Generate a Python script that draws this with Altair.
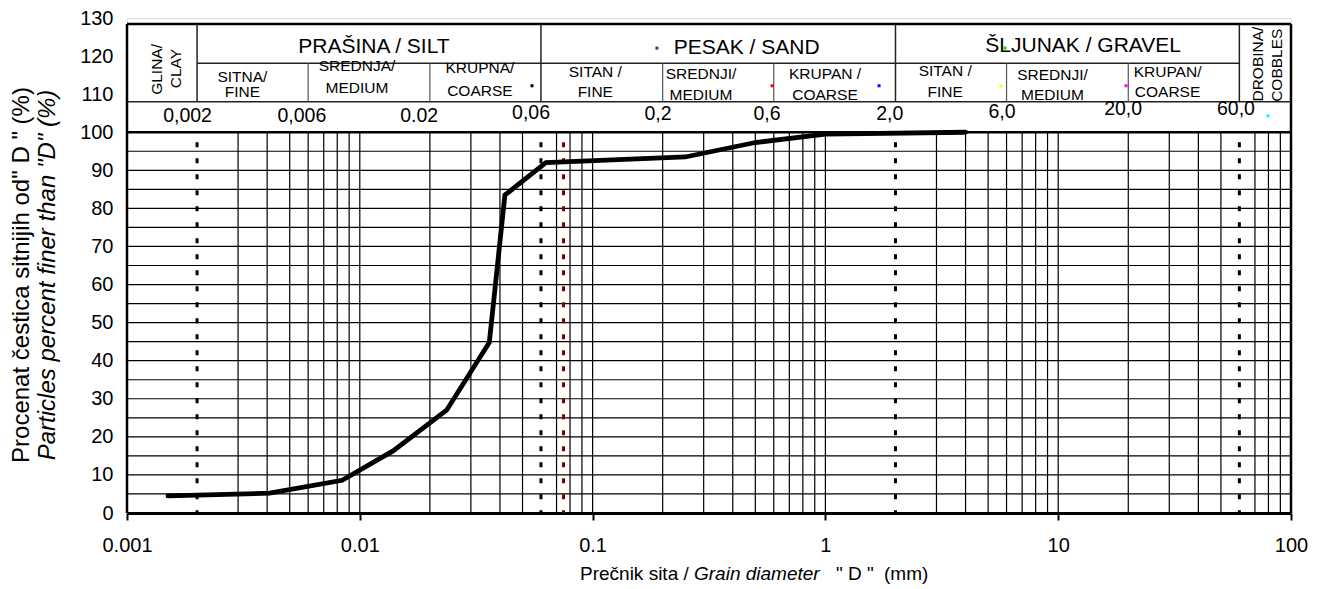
import altair as alt
import pandas as pd

FONT = "Liberation Sans"

# ---- grain size distribution curve ----
grain_mm = [0.0015, 0.0041, 0.0084, 0.0139, 0.0236, 0.036, 0.042, 0.063, 0.25, 0.5, 1.0, 4.0]
passing_pct = [4.5, 5.2, 8.6, 16.3, 27.0, 44.8, 83.5, 92.0, 93.5, 97.3, 99.5, 100.0]

x_ticks = [0.001, 0.01, 0.1, 1, 10, 100]
y_ticks = list(range(0, 131, 10))

# ---- classification boundaries ----
main_bounds = [0.002, 0.06, 2.0, 60.0]
sub_bounds = [0.006, 0.02, 0.2, 0.6, 6.0, 20.0]
red_bound = [0.075]

main_labels = ["PRAŠINA / SILT", "PESAK / SAND", "ŠLJUNAK / GRAVEL"]
main_label_x = [0.0115, 0.459, 12.8]
main_label_y = [122.5, 122.2, 122.7]

sub_line1 = ["SITNA/", "SREDNJA/", "KRUPNA/", "SITAN /", "SREDNJI/", "KRUPAN /", "SITAN /", "SREDNJI/", "KRUPAN/"]
sub_line2 = ["FINE", "MEDIUM", "COARSE", "FINE", "MEDIUM", "COARSE", "FINE", "MEDIUM", "COARSE"]
sub_x = [0.00313, 0.00973, 0.0328, 0.1027, 0.292, 0.996, 3.27, 9.45, 29.5]
sub_y1 = [114.6, 117.4, 117.0, 115.9, 115.3, 115.3, 116.1, 115.1, 115.9]
sub_y2 = [110.6, 111.7, 110.9, 110.6, 109.7, 109.9, 110.6, 109.7, 110.6]

rot_labels = ["GLINA/", "CLAY", "DROBINA/", "COBBLES"]
rot_x = [0.00134, 0.00162, 72.4, 86.8]
rot_y = [116.5, 116.7, 117.9, 117.6]

bound_labels = ["0,002", "0,006", "0.02", "0,06", "0,2", "0,6", "2,0", "6,0", "20,0", "60,0"]
bound_label_x = [0.00182, 0.00564, 0.0180, 0.0544, 0.191, 0.561, 1.89, 5.74, 19.0, 58.0]
bound_label_y = [104.3, 104.3, 104.3, 105.1, 104.8, 104.8, 104.8, 105.3, 106.2, 106.2]

dot_x = [0.0549, 0.189, 0.590, 1.70, 5.91, 5.68, 19.55, 79.6]
dot_y = [112.2, 122.1, 112.2, 112.2, 122.1, 112.2, 112.2, 104.3]
dot_color = ["#000000", "#333399", "#ff0000", "#0000ff", "#33cc00", "#ffff00", "#ff00ff", "#00ffff"]

header_top = 128.4
row1_bottom = 118.1
row2_bottom = 108.0

# ---- gridlines ----
skip = set(main_bounds) | {0.001, 100.0}
vgrid = []
for e in range(-3, 2):
    for m in range(1, 10):
        v = round(m * 10 ** e, 6)
        if v not in skip:
            vgrid.append(v)
hgrid = list(range(5, 100, 5))

x_scale = alt.Scale(type="log", domain=[0.001, 100], nice=False)
y_scale = alt.Scale(domain=[0, 130], nice=False, zero=False)

x_axis = alt.Axis(
    values=x_ticks, format="~g", title=None, grid=False, domain=True,
    domainColor="black", domainWidth=3, ticks=True, tickSize=7, tickWidth=2,
    tickColor="black", labelFont=FONT, labelFontSize=20, labelColor="black",
    labelPadding=15, labelFlush=False, labelOverlap=False,
)
y_axis = alt.Axis(
    values=y_ticks, title=None, grid=False, domain=False, ticks=False,
    labelFont=FONT, labelFontSize=20, labelColor="black", labelPadding=14,
    labelFlush=False, labelOverlap=False,
)


def X(f="x"):
    return alt.X(f"{f}:Q", scale=x_scale, axis=x_axis)


def Y(f="y"):
    return alt.Y(f"{f}:Q", scale=y_scale, axis=y_axis)


vgrid_layer = alt.Chart(pd.DataFrame({"x": vgrid, "y": 0.0, "y2": 100.0})).mark_rule(
    color="#000000", strokeWidth=1.2
).encode(x=X(), y=Y(), y2="y2:Q")

hgrid_layer = alt.Chart(pd.DataFrame({"y": hgrid, "x": 0.001, "x2": 100.0})).mark_rule(
    color="#000000", strokeWidth=1.2
).encode(y=Y(), x=X(), x2="x2:Q")

dotted_layer = alt.Chart(pd.DataFrame({"x": main_bounds, "y": 100.0, "y2": 0.0})).mark_rule(
    color="black", strokeWidth=3, strokeDash=[5, 11], strokeDashOffset=6
).encode(x=X(), y=Y(), y2="y2:Q")

red_layer = alt.Chart(pd.DataFrame({"x": red_bound, "y": 100.0, "y2": 0.0})).mark_rule(
    color="#800000", strokeWidth=3, strokeDash=[5, 11], strokeDashOffset=6
).encode(x=X(), y=Y(), y2="y2:Q")

curve = alt.Chart(pd.DataFrame({"x": grain_mm, "y": passing_pct})).mark_line(
    color="black", strokeWidth=4.8, strokeCap="round"
).encode(x=X(), y=Y(), order="x:Q")

# ---- frame and header lines ----
thick_h = pd.DataFrame({"y": [100.0, header_top], "x": 0.001, "x2": 100.0})
thick_h_layer = alt.Chart(thick_h).mark_rule(color="black", strokeWidth=2.5).encode(y=Y(), x=X(), x2="x2:Q")

side = pd.DataFrame({"x": [0.001, 100.0], "y": 0.0, "y2": header_top})
side_layer = alt.Chart(side).mark_rule(color="black", strokeWidth=2.5).encode(x=X(), y=Y(), y2="y2:Q")

row_lines = pd.DataFrame({"y": [row1_bottom, row2_bottom], "x": [0.002, 0.001], "x2": [60.0, 100.0]})
row_layer = alt.Chart(row_lines).mark_rule(color="#222222", strokeWidth=1.5).encode(y=Y(), x=X(), x2="x2:Q")

main_sep = pd.DataFrame({"x": main_bounds, "y": row2_bottom, "y2": header_top})
main_sep_layer = alt.Chart(main_sep).mark_rule(color="#222222", strokeWidth=1.5).encode(x=X(), y=Y(), y2="y2:Q")

sub_sep = pd.DataFrame({"x": sub_bounds, "y": row2_bottom, "y2": row1_bottom})
sub_sep_layer = alt.Chart(sub_sep).mark_rule(color="#555555", strokeWidth=1.2).encode(x=X(), y=Y(), y2="y2:Q")

# ---- header texts ----
main_text = alt.Chart(pd.DataFrame({"x": main_label_x, "y": main_label_y, "t": main_labels})).mark_text(
    font=FONT, fontSize=21, color="black", align="center", baseline="middle"
).encode(x=X(), y=Y(), text="t:N")

sub_df = pd.DataFrame({"x": sub_x + sub_x, "y": sub_y1 + sub_y2, "t": sub_line1 + sub_line2})
sub_text = alt.Chart(sub_df).mark_text(
    font=FONT, fontSize=15.5, color="black", align="center", baseline="middle"
).encode(x=X(), y=Y(), text="t:N")

rot_text = alt.Chart(pd.DataFrame({"x": rot_x, "y": rot_y, "t": rot_labels})).mark_text(
    font=FONT, fontSize=15.5, color="black", align="center", baseline="middle", angle=270
).encode(x=X(), y=Y(), text="t:N")

num_text = alt.Chart(pd.DataFrame({"x": bound_label_x, "y": bound_label_y, "t": bound_labels})).mark_text(
    font=FONT, fontSize=19.5, color="black", align="center", baseline="middle"
).encode(x=X(), y=Y(), text="t:N")

dots = alt.Chart(pd.DataFrame({"x": dot_x, "y": dot_y, "c": dot_color})).mark_square(
    size=9, opacity=1
).encode(x=X(), y=Y(), color=alt.Color("c:N", scale=None))

# ---- axis titles (mixed regular / italic) ----
ytitle1 = alt.Chart(pd.DataFrame({"t": ["Procenat čestica sitnijih od\" D \" (%)"]})).mark_text(
    font=FONT, fontSize=24, color="black", angle=270, align="center", baseline="middle"
).encode(x=alt.value(-105), y=alt.value(257), text="t:N")

ytitle2 = alt.Chart(pd.DataFrame({"t": ["Particles percent finer than \"D\" (%)"]})).mark_text(
    font=FONT, fontSize=24, fontStyle="italic", color="black", angle=270, align="center", baseline="middle"
).encode(x=alt.value(-79), y=alt.value(257), text="t:N")

x_title_parts = ["Prečnik sita /", "Grain diameter", "\" D \"", "(mm)"]
x_title_italic = ["normal", "italic", "normal", "normal"]
x_title_left = [453, 567, 709, 757]

x_title_layers = [
    alt.Chart(pd.DataFrame({"t": [t]})).mark_text(
        font=FONT, fontSize=19, fontStyle=s, color="black", align="left", baseline="middle"
    ).encode(x=alt.value(px), y=alt.value(556), text="t:N")
    for t, s, px in zip(x_title_parts, x_title_italic, x_title_left)
]

chart = alt.layer(
    vgrid_layer, hgrid_layer, dotted_layer, red_layer,
    curve,
    thick_h_layer, side_layer, row_layer, main_sep_layer, sub_sep_layer,
    main_text, sub_text, rot_text, num_text, dots,
    ytitle1, ytitle2, *x_title_layers,
).properties(
    width=1164, height=495,
    autosize=alt.AutoSizeParams(type="none"),
    padding={"left": 119, "top": 10, "right": 25, "bottom": 71},
).configure_view(stroke=None).configure(background="white")

chart.save("out.html", embed_options={"renderer": "svg", "actions": False})
